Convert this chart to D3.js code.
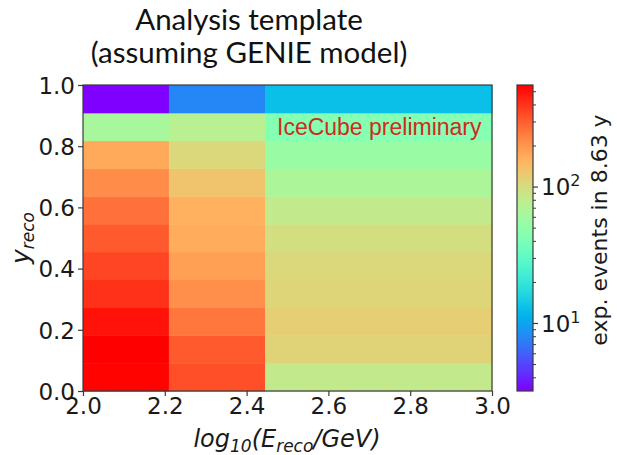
<!DOCTYPE html>
<html>
<head>
<meta charset="utf-8">
<script src="https://cdn.jsdelivr.net/npm/d3@7"></script>
<style>
    html, body { margin: 0; padding: 0; background: #fff; }
    svg { display: block; }
</style>
</head>
<body>
<svg id="chart" width="617" height="455"></svg>
<script>
/**
 * Data: bin edges and expected event counts (rows from bottom y bin to top y bin).
 */
const xEdges = [2.0, 2.21, 2.445, 3.0];
const yEdges = [0, 0.0909, 0.1818, 0.2727, 0.3636, 0.4545, 0.5455, 0.6364, 0.7273, 0.8182, 0.9091, 1.0];
const countsCol1 = [550, 560, 500, 408, 357, 310, 265, 215, 168, 64, 3.2];
const countsCol2 = [334, 309, 252, 210, 184, 166, 158, 132, 107, 75, 8];
const countsCol3 = [83, 113, 119, 110, 107, 99, 83, 67, 55, 44.6, 13];
const xTicks = [2.0, 2.2, 2.4, 2.6, 2.8, 3.0];
const yTicks = [0.0, 0.2, 0.4, 0.6, 0.8, 1.0];
const colorDomain = [3.2, 560];
const cbMajorTicks = [10, 100];
const cbMinorTicks = [4, 5, 6, 7, 8, 9, 20, 30, 40, 50, 60, 70, 80, 90, 200, 300, 400, 500];

/**
 * Visual configs.
 */
const plot = { left: 83, right: 492, top: 85, bottom: 391 },
    cbar = { left: 517, width: 16 },
    tickFont = 'DejaVu Sans, sans-serif',
    tickSize = 23,
    frameColor = '#3a3a3a';

const svg = d3.select('#chart');

/**
 * D3 scales.
 */
const xScale = d3.scaleLinear().domain([2.0, 3.0]).range([plot.left, plot.right]),
    yScale = d3.scaleLinear().domain([0, 1]).range([plot.bottom, plot.top]),
    norm = d3.scaleLog().domain(colorDomain).range([0, 1]).clamp(true),
    cbScale = d3.scaleLog().domain(colorDomain).range([plot.bottom, plot.top]);

// matplotlib 'rainbow' colormap
function rainbow(t) {
    const c = v => Math.round(255 * Math.max(0, Math.min(1, v)));
    const r = Math.abs(2 * t - 0.5),
        g = Math.sin(Math.PI * t),
        b = Math.cos(Math.PI * t / 2);
    return d3.rgb(c(r), c(g), c(b)).toString();
}

/**
 * Cells.
 */
const columns = [countsCol1, countsCol2, countsCol3];
const cells = [];
columns.forEach((col, i) => {
    col.forEach((v, j) => {
        cells.push({ x0: xEdges[i], x1: xEdges[i + 1], y0: yEdges[j], y1: yEdges[j + 1], v: v });
    });
});

svg.append('g').attr('class', 'cells')
    .selectAll('rect').data(cells).join('rect')
    .attr('x', d => xScale(d.x0))
    .attr('y', d => yScale(d.y1))
    .attr('width', d => xScale(d.x1) - xScale(d.x0) + 0.5)
    .attr('height', d => yScale(d.y0) - yScale(d.y1) + 0.5)
    .attr('fill', d => rainbow(norm(d.v)));

// Watermark text
svg.append('text')
    .attr('x', 277).attr('y', 135)
    .attr('font-family', 'Liberation Sans, Arial, sans-serif')
    .attr('font-size', 23)
    .attr('fill', '#d02a22')
    .text('IceCube preliminary');

// Frame
svg.append('rect')
    .attr('x', plot.left).attr('y', plot.top)
    .attr('width', plot.right - plot.left).attr('height', plot.bottom - plot.top)
    .attr('fill', 'none').attr('stroke', frameColor).attr('stroke-width', 1.2);

/**
 * Axes.
 */
const xAxis = svg.append('g')
    .attr('transform', 'translate(0,' + plot.bottom + ')')
    .call(d3.axisBottom(xScale).tickValues(xTicks).tickFormat(d3.format('.1f')).tickSize(5).tickPadding(2));
const yAxis = svg.append('g')
    .attr('transform', 'translate(' + plot.left + ',0)')
    .call(d3.axisLeft(yScale).tickValues(yTicks).tickFormat(d3.format('.1f')).tickSize(5).tickPadding(3));

[xAxis, yAxis].forEach(a => {
    a.select('.domain').remove();
    a.selectAll('line').attr('stroke', frameColor).attr('stroke-width', 1.2);
    a.selectAll('text').attr('font-family', tickFont).attr('font-size', tickSize).attr('fill', '#1a1a1a');
});
yAxis.selectAll('text').attr('dy', '0.36em');

// Axis labels
svg.append('text')
    .attr('x', 287).attr('y', 447)
    .attr('text-anchor', 'middle')
    .attr('font-family', tickFont).attr('font-size', 24).attr('font-style', 'italic').attr('fill', '#1a1a1a')
    .call(t => {
        t.append('tspan').text('log');
        t.append('tspan').attr('font-size', 17).attr('dy', 5).text('10');
        t.append('tspan').attr('dy', -5).text('(E');
        t.append('tspan').attr('font-size', 17).attr('dy', 5).text('reco');
        t.append('tspan').attr('dy', -5).text('/GeV)');
    });

svg.append('text')
    .attr('transform', 'translate(29,238) rotate(-90)')
    .attr('text-anchor', 'middle')
    .attr('font-family', tickFont).attr('font-size', 25).attr('font-style', 'italic').attr('fill', '#1a1a1a')
    .call(t => {
        t.append('tspan').text('y');
        t.append('tspan').attr('font-size', 17).attr('dy', 5).text('reco');
    });

/**
 * Title.
 */
const title = svg.append('text')
    .attr('text-anchor', 'middle')
    .attr('font-family', 'Lato, sans-serif').attr('font-size', 29.5).attr('fill', '#111');
title.append('tspan').attr('x', 249).attr('y', 30).text('Analysis template');
title.append('tspan').attr('x', 249).attr('y', 63).text('(assuming GENIE model)');

/**
 * Colorbar.
 */
const grad = svg.append('defs').append('linearGradient')
    .attr('id', 'cbgrad').attr('x1', 0).attr('y1', 1).attr('x2', 0).attr('y2', 0);
d3.range(0, 1.0001, 0.02).forEach(t => {
    grad.append('stop').attr('offset', t).attr('stop-color', rainbow(t));
});

svg.append('rect')
    .attr('x', cbar.left).attr('y', plot.top)
    .attr('width', cbar.width).attr('height', plot.bottom - plot.top)
    .attr('fill', 'url(#cbgrad)')
    .attr('stroke', frameColor).attr('stroke-width', 1.2);

const cbx = cbar.left + cbar.width;
svg.append('g').selectAll('line').data(cbMinorTicks).join('line')
    .attr('x1', cbx).attr('x2', cbx + 3)
    .attr('y1', d => cbScale(d)).attr('y2', d => cbScale(d))
    .attr('stroke', frameColor).attr('stroke-width', 1);

const major = svg.append('g').selectAll('g').data(cbMajorTicks).join('g')
    .attr('transform', d => 'translate(' + cbx + ',' + cbScale(d) + ')');
major.append('line').attr('x2', 5).attr('stroke', frameColor).attr('stroke-width', 1.2);
major.append('text')
    .attr('x', 8).attr('dy', '0.36em')
    .attr('font-family', tickFont).attr('font-size', tickSize).attr('fill', '#1a1a1a')
    .call(t => {
        t.append('tspan').text('10');
        t.append('tspan').attr('font-size', 16).attr('dy', -9).text(d => Math.round(Math.log10(d)));
    });

svg.append('text')
    .attr('transform', 'translate(607,230) rotate(-90)')
    .attr('text-anchor', 'middle')
    .attr('font-family', tickFont).attr('font-size', 22).attr('fill', '#1a1a1a')
    .text('exp. events in 8.63 y');
</script>
</body>
</html>
